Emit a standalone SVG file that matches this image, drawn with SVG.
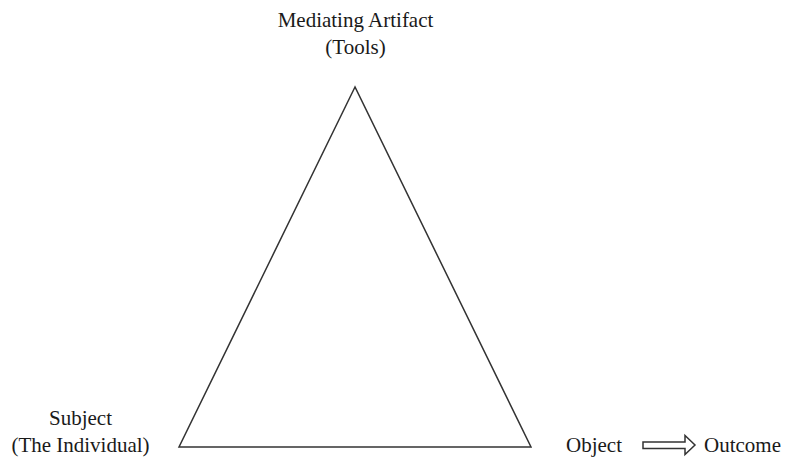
<svg xmlns="http://www.w3.org/2000/svg" width="787" height="457" viewBox="0 0 787 457">
<style>
text{font-family:"Liberation Serif","Times New Roman",serif;font-size:21px;fill:#1a1a1a}
.ln{fill:none;stroke:#333;stroke-width:1.5}
</style>
<rect width="787" height="457" fill="#fff"/>
<g id="connectors">
<polygon class="ln" points="355,87 179,447 531,447"/>
<polygon class="ln" stroke-width="1.2" points="643,442 685,442 685,435.5 695,445 685,454.5 685,448.5 643,448.5"/>
</g>
<g id="mediating-artifact">
<text x="355.5" y="27" text-anchor="middle">Mediating Artifact</text>
<text x="355.5" y="54" text-anchor="middle">(Tools)</text>
</g>
<g id="subject">
<text x="80.5" y="425" text-anchor="middle">Subject</text>
<text x="80.5" y="452" text-anchor="middle">(The Individual)</text>
</g>
<g id="object">
<text x="566" y="452">Object</text>
</g>
<g id="outcome">
<text x="704" y="452">Outcome</text>
</g>
</svg>
